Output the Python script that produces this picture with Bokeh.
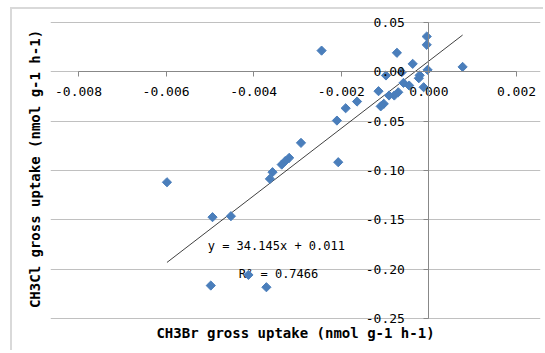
import numpy as np
from bokeh.plotting import figure
from bokeh.models import FixedTicker, LinearAxis, PrintfTickFormatter, Range1d
from bokeh.core.properties import value
from bokeh.embed import file_html
from bokeh.resources import INLINE

# CH3Br gross uptake (x) and CH3Cl gross uptake (y), nmol g-1 h-1
ch3br_uptake = [-0.00005, -0.00005, -0.00073, -0.00037, -0.00003, -0.00098, -0.00062,
                -0.00021, -0.00023, -0.00058, -0.00045, -0.00012, -0.00115, -0.00070,
                -0.00079, -0.00091, -0.00103, -0.00110, -0.00164, -0.00190, -0.00210,
                -0.00292, -0.00319, -0.00328, -0.00336, -0.00357, -0.00363, -0.00207,
                -0.00598, -0.00494, -0.00452, -0.00498, -0.00412, -0.00371, 0.00077,
                -0.00245]
ch3cl_uptake = [0.0358, 0.0274, 0.0193, 0.0081, 0.0020, -0.0037, -0.0004,
                -0.0035, -0.0065, -0.0112, -0.0139, -0.0156, -0.0196, -0.0207,
                -0.0240, -0.0240, -0.0324, -0.0350, -0.0301, -0.0369, -0.0494,
                -0.0720, -0.0872, -0.0905, -0.0940, -0.1017, -0.1085, -0.0916,
                -0.1119, -0.1473, -0.1463, -0.2166, -0.2058, -0.2183, 0.0050,
                0.0215]

x_ticks = [-0.008, -0.006, -0.004, -0.002, 0.0, 0.002]
y_ticks = [0.05, 0.0, -0.05, -0.10, -0.15, -0.20, -0.25]

slope = 34.145
intercept = 0.011
r_squared = 0.7466

x_title = "CH3Br gross uptake (nmol g-1 h-1)"
y_title = "CH3Cl gross uptake (nmol g-1 h-1)"
eq_text = "y = 34.145x + 0.011"
r2_text = "R² = 0.7466"

MONO = "DejaVu Sans Mono"
AXIS_COLOR = "#888888"
GRID_COLOR = "#c0c0c0"

x_bounds = (x_ticks[0], x_ticks[-1])
y_bounds = (y_ticks[-1], y_ticks[0])

# frame is a little larger than the plot area so edge tick labels are not clipped
p = figure(width=533, height=343, output_backend="svg", toolbar_location=None,
           x_range=Range1d(-0.008639, 0.002548), y_range=Range1d(-0.257094, 0.060135),
           min_border_left=38, min_border_right=5, min_border_top=3,
           min_border_bottom=27)
p.outline_line_color = None
p.background_fill_color = "white"
p.border_fill_color = "white"
p.styles = {"border-left": "2px solid #d9d9d9", "border-top": "2px solid #d9d9d9",
            "margin-left": "10px", "margin-top": "7px"}

xa = p.xaxis[0]
xa.fixed_location = 0
xa.bounds = x_bounds
xa.ticker = FixedTicker(ticks=x_ticks)
xa.formatter = PrintfTickFormatter(format="%.3f")
ya = p.yaxis[0]
ya.fixed_location = 0
ya.bounds = y_bounds
ya.ticker = FixedTicker(ticks=y_ticks)
ya.formatter = PrintfTickFormatter(format="%.2f")
for ax in (xa, ya):
    ax.axis_line_color = AXIS_COLOR
    ax.major_tick_line_color = AXIS_COLOR
    ax.major_tick_out = 5
    ax.major_tick_in = 0
    ax.minor_tick_line_color = None
    ax.major_label_text_font = MONO
    ax.major_label_text_font_size = "13px"
    ax.major_label_text_color = "black"
xa.major_label_standoff = 10
ya.major_label_standoff = 19

p.xgrid.visible = False
p.ygrid.ticker = FixedTicker(ticks=y_ticks)
p.ygrid.bounds = x_bounds
p.ygrid.grid_line_color = GRID_COLOR

xt = LinearAxis(ticker=FixedTicker(ticks=[]), axis_label=x_title,
                axis_line_color=None, major_tick_out=0, major_tick_in=0,
                minor_tick_out=0, minor_tick_in=0, major_label_standoff=0,
                axis_label_standoff=-1, axis_label_text_font=MONO,
                axis_label_text_font_size="14px", axis_label_text_font_style="bold",
                axis_label_text_color="black")
p.add_layout(xt, "below")
yt = LinearAxis(ticker=FixedTicker(ticks=[]), axis_label=y_title,
                axis_line_color=None, major_tick_out=0, major_tick_in=0,
                minor_tick_out=0, minor_tick_in=0, major_label_standoff=0,
                axis_label_standoff=8, axis_label_text_font=MONO,
                axis_label_text_font_size="14px", axis_label_text_font_style="bold",
                axis_label_text_color="black")
p.add_layout(yt, "left")

# trendline over the data's x extent
x_line = np.array([min(ch3br_uptake), max(ch3br_uptake)])
p.line(x_line, slope * x_line + intercept, line_color="black", line_width=0.75)

p.text(x=[-0.00505, -0.00434], y=[-0.1767, -0.2047], text=[eq_text, r2_text],
       text_font=value(MONO), text_font_size="12px", text_color="black",
       text_align="left", text_baseline="middle")

p.scatter(ch3br_uptake, ch3cl_uptake, marker="square", angle=np.pi / 4, size=6.5,
          fill_color="#4A7EBB", line_color="#4A7EBB", line_width=1)

open("out.html", "w").write(file_html(p, INLINE))
